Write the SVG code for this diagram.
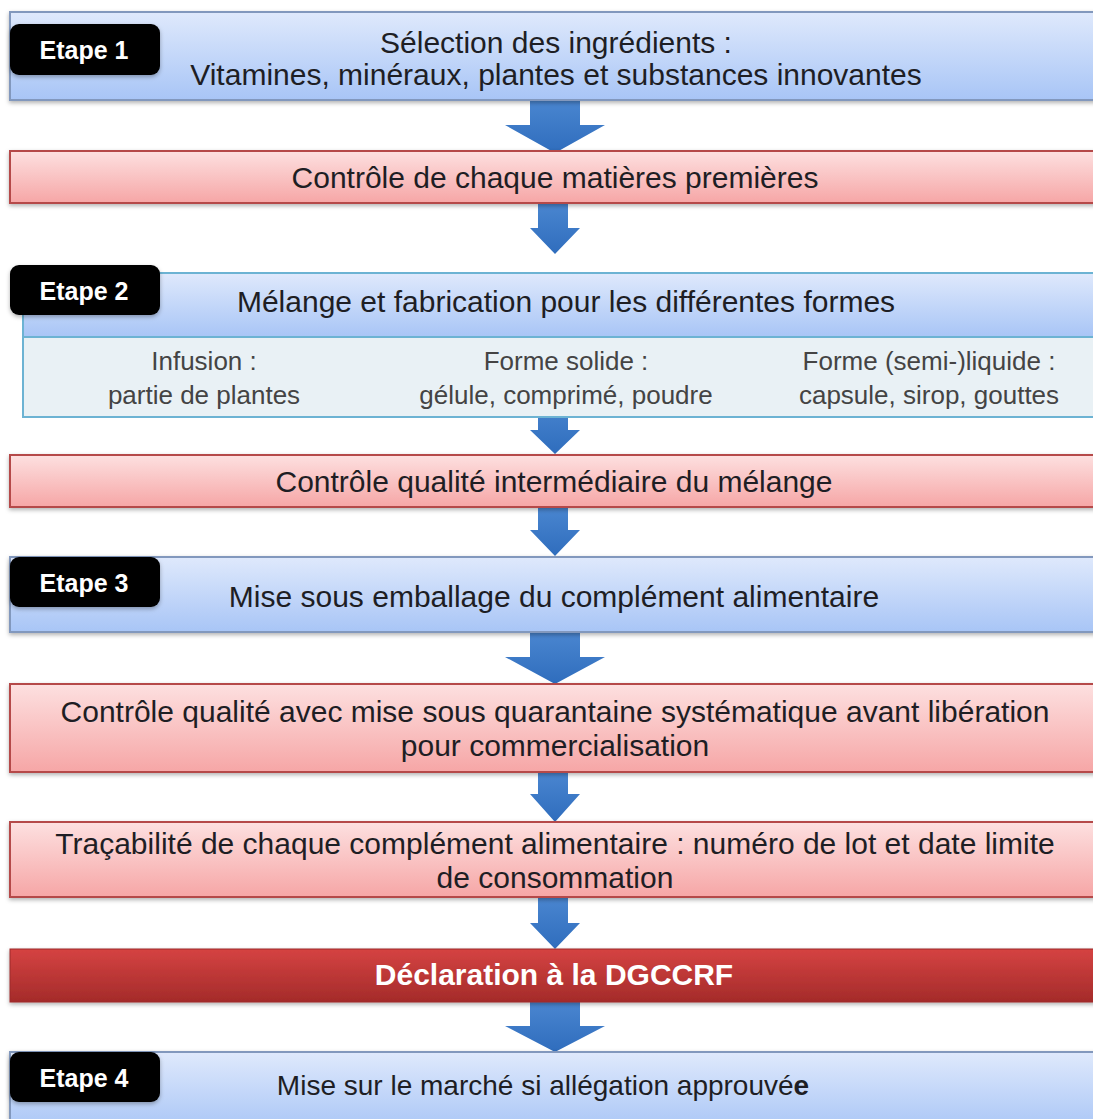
<svg xmlns="http://www.w3.org/2000/svg" width="1093" height="1119" viewBox="0 0 1093 1119">
<defs>
<linearGradient id="gBlue" x1="0" y1="0" x2="0" y2="1"><stop offset="0" stop-color="#dfe9fc"/><stop offset="1" stop-color="#a8c5f6"/></linearGradient>
<linearGradient id="gRed" x1="0" y1="0" x2="0" y2="1"><stop offset="0" stop-color="#fde0e0"/><stop offset="1" stop-color="#f6a6a6"/></linearGradient>
<linearGradient id="gDark" x1="0" y1="0" x2="0" y2="1"><stop offset="0" stop-color="#d54342"/><stop offset="1" stop-color="#a42b2a"/></linearGradient>
<linearGradient id="gArrow" x1="0" y1="0" x2="0" y2="1"><stop offset="0" stop-color="#4a86d0"/><stop offset="1" stop-color="#2f6dbd"/></linearGradient>
<filter id="sh" x="-5%" y="-20%" width="110%" height="150%"><feDropShadow dx="0" dy="2" stdDeviation="2" flood-color="#000" flood-opacity="0.3"/></filter>
<style>
.blue{fill:url(#gBlue);stroke:#8298bd;stroke-width:2}
.red{fill:url(#gRed);stroke:#b54a4a;stroke-width:2}
.dark{fill:url(#gDark);stroke:#9c2a2a;stroke-width:1}
.sub{fill:#e9f1f5;stroke:#6cb3d3;stroke-width:2}
.badge{fill:#000}
.bt{font-family:"Liberation Sans",Arial,sans-serif;font-weight:bold;font-size:25px;fill:#fff;text-anchor:middle}
.t{font-family:"Liberation Sans",Arial,sans-serif;font-size:30px;fill:#1e1e24;text-anchor:middle}
.s{font-family:"Liberation Sans",Arial,sans-serif;font-size:26px;fill:#444;text-anchor:middle}
.w{font-family:"Liberation Sans",Arial,sans-serif;font-size:30px;font-weight:bold;fill:#fff;text-anchor:middle}
.ar{fill:url(#gArrow)}
</style>
</defs>
<rect width="1093" height="1119" fill="#fff"/>
<g id="connectors">
<polygon class="ar" points="530,100 580,100 580,125 605,125 555,153 505,125 530,125"/>
<polygon class="ar" points="538,203 568,203 568,228 580,228 555,254 530,228 538,228"/>
<polygon class="ar" points="538,400 568,400 568,430 580,430 555,454 530,430 538,430"/>
<polygon class="ar" points="538,507 568,507 568,530 580,530 555,556 530,530 538,530"/>
<polygon class="ar" points="530,632 580,632 580,657 605,657 555,684 505,657 530,657"/>
<polygon class="ar" points="538,772 568,772 568,794 580,794 555,822 530,794 538,794"/>
<polygon class="ar" points="538,897 568,897 568,923 580,923 555,949 530,923 538,923"/>
<polygon class="ar" points="530,1002 580,1002 580,1026 605,1026 555,1052 505,1026 530,1026"/>
</g>
<g id="step1">
<rect class="blue" x="10" y="12" width="1090" height="88" filter="url(#sh)"/>
<rect class="badge" x="10" y="24" width="150" height="51" rx="9" filter="url(#sh)"/>
<text class="bt" x="84" y="59">Etape 1</text>
<text class="t" x="556" y="53">Sélection des ingrédients :</text>
<text class="t" x="556" y="85">Vitamines, minéraux, plantes et substances innovantes</text>
</g>
<g id="control1">
<rect class="red" x="10" y="151" width="1090" height="52" filter="url(#sh)"/>
<text class="t" x="555" y="188">Contrôle de chaque matières premières</text>
</g>
<g id="step2">
<rect class="sub" x="23" y="337" width="1080" height="80"/>
<rect class="blue" x="23" y="273" width="1080" height="64" style="stroke:#6cb3d3"/>
<rect class="badge" x="10" y="265" width="150" height="50" rx="9" filter="url(#sh)"/>
<text class="bt" x="84" y="300">Etape 2</text>
<text class="t" x="566" y="312">Mélange et fabrication pour les différentes formes</text>
<text class="s" x="204" y="370">Infusion :</text>
<text class="s" x="204" y="404">partie de plantes</text>
<text class="s" x="566" y="370">Forme solide :</text>
<text class="s" x="566" y="404">gélule, comprimé, poudre</text>
<text class="s" x="929" y="370">Forme (semi-)liquide :</text>
<text class="s" x="929" y="404">capsule, sirop, gouttes</text>
</g>
<g id="control2">
<rect class="red" x="10" y="455" width="1090" height="52" filter="url(#sh)"/>
<text class="t" x="554" y="492">Contrôle qualité intermédiaire du mélange</text>
</g>
<g id="step3">
<rect class="blue" x="10" y="557" width="1090" height="75" filter="url(#sh)"/>
<rect class="badge" x="10" y="557" width="150" height="50" rx="9" filter="url(#sh)"/>
<text class="bt" x="84" y="592">Etape 3</text>
<text class="t" x="554" y="607">Mise sous emballage du complément alimentaire</text>
</g>
<g id="control3">
<rect class="red" x="10" y="684" width="1090" height="88" filter="url(#sh)"/>
<text class="t" x="555" y="722">Contrôle qualité avec mise sous quarantaine systématique avant libération</text>
<text class="t" x="555" y="756">pour commercialisation</text>
</g>
<g id="trace">
<rect class="red" x="10" y="822" width="1090" height="75" filter="url(#sh)"/>
<text class="t" x="555" y="854">Traçabilité de chaque complément alimentaire : numéro de lot et date limite</text>
<text class="t" x="555" y="888">de consommation</text>
</g>
<g id="dgccrf">
<rect class="dark" x="10" y="949" width="1090" height="53" filter="url(#sh)"/>
<text class="w" x="554" y="985">Déclaration à la DGCCRF</text>
</g>
<g id="step4">
<rect class="blue" x="10" y="1052" width="1090" height="80" filter="url(#sh)"/>
<rect class="badge" x="10" y="1052" width="150" height="50" rx="9" filter="url(#sh)"/>
<text class="bt" x="84" y="1087">Etape 4</text>
<text class="t" x="543" y="1095" style="font-size:28px">Mise sur le marché si allégation approuvé<tspan font-weight="bold">e</tspan></text>
</g>
</svg>
